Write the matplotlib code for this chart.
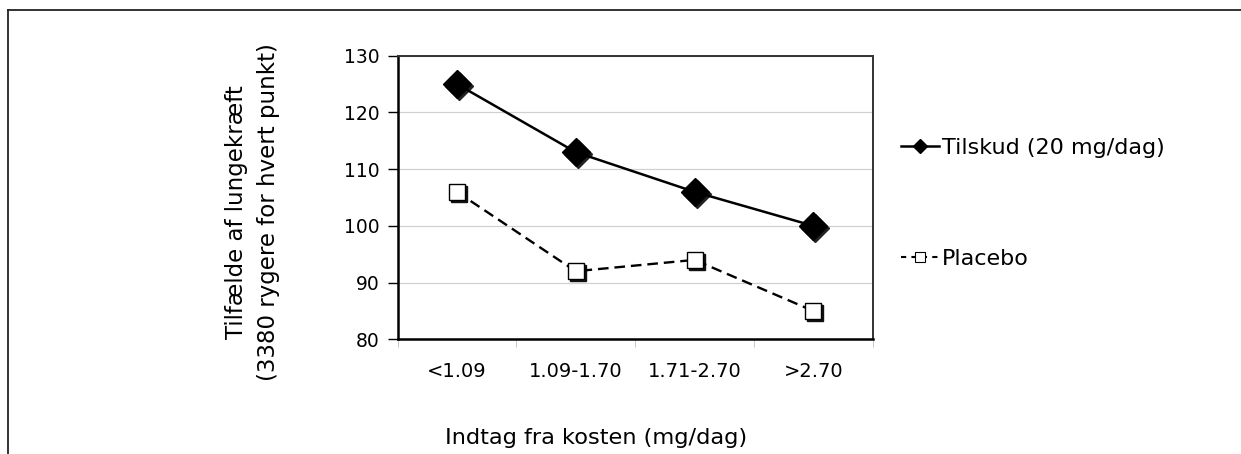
import matplotlib.pyplot as plt
import matplotlib.transforms as mtransforms
from matplotlib.lines import Line2D

# data
categories = ['<1.09', '1.09-1.70', '1.71-2.70', '>2.70']
tilskud = [125, 113, 106, 100]
placebo = [106, 92, 94, 85]
y_ticks = [80, 90, 100, 110, 120, 130]

plt.rcParams['font.family'] = ['DejaVu Sans']

W, H = 1241, 454
fig = plt.figure(figsize=(W / 100, H / 100), dpi=100)

# outer frame (only top and left visible)
fig.add_artist(Line2D([8 / W, 8 / W], [0, 1 - 10 / H], color='#222222', lw=1.3,
                      transform=fig.transFigure))
fig.add_artist(Line2D([8 / W, 1], [1 - 10 / H, 1 - 10 / H], color='#222222', lw=1.3,
                      transform=fig.transFigure))

left, right, top, bottom = 397.5, 872.7, 55.7, 339.3
ax = fig.add_axes([left / W, 1 - bottom / H, (right - left) / W, (bottom - top) / H])

x = list(range(len(categories)))
ax.set_xlim(-0.5, len(categories) - 0.5)
ax.set_ylim(80, 130)
ax.set_yticks(y_ticks)
ax.grid(axis='y', color='#d0d0d0', lw=0.9)
ax.set_axisbelow(True)

# shadows
shadow = mtransforms.offset_copy(ax.transData, fig=fig, x=2, y=-2, units='dots')
ax.plot(x, tilskud, ls='none', marker='D', ms=14, color='#222222', transform=shadow)
ax.plot(x, placebo, ls='none', marker='s', ms=11, color='#111111', transform=shadow)

ax.plot(x, tilskud, color='black', lw=1.8, marker='D', ms=14, mfc='black', mec='black',
        label='Tilskud (20 mg/dag)')
ax.plot(x, placebo, color='black', lw=1.7, ls=(0, (4.5, 2.5)), marker='s', ms=11,
        mfc='white', mec='black', mew=1.0, label='Placebo')

ax.set_xticks(x)
ax.set_xticklabels(categories)
ax.set_xticks([i - 0.5 for i in range(len(categories) + 1)], minor=True)
ax.tick_params(axis='x', which='major', length=0, pad=16, labelsize=14)
ax.tick_params(axis='x', which='minor', length=6, color='#bbbbbb', direction='out')
ax.tick_params(axis='y', length=7, width=1.0, direction='out', labelsize=13.5, pad=6)

for s in ['left', 'bottom']:
    ax.spines[s].set_color('black')
    ax.spines[s].set_linewidth(1.8)
for s in ['top', 'right']:
    ax.spines[s].set_color('#333333')
    ax.spines[s].set_linewidth(1.4)

fig.text(445 / W, 1 - 438 / H, 'Indtag fra kosten (mg/dag)', fontsize=16.2, va='center', ha='left')
fig.text(252.5 / W, 1 - 212 / H, 'Tilfælde af lungekræft\n(3380 rygere for hvert punkt)',
         fontsize=16.5, rotation=90, ha='center', va='center', linespacing=1.45)

# legend
leg_h = [Line2D([0], [0], color='black', lw=1.8, marker='D', ms=7),
         Line2D([0], [0], color='black', lw=1.5, ls=(0, (2.5, 2.5)), marker='s', ms=7,
                mfc='white', mew=0.8)]
fig.legend(leg_h, ['Tilskud (20 mg/dag)', 'Placebo'], loc='upper left',
           bbox_to_anchor=(890 / W, 1 - 127 / H), frameon=False, fontsize=16,
           handlelength=1.7, handletextpad=0.15, labelspacing=4.1, borderpad=0)

fig.savefig('out.png', dpi=100)
